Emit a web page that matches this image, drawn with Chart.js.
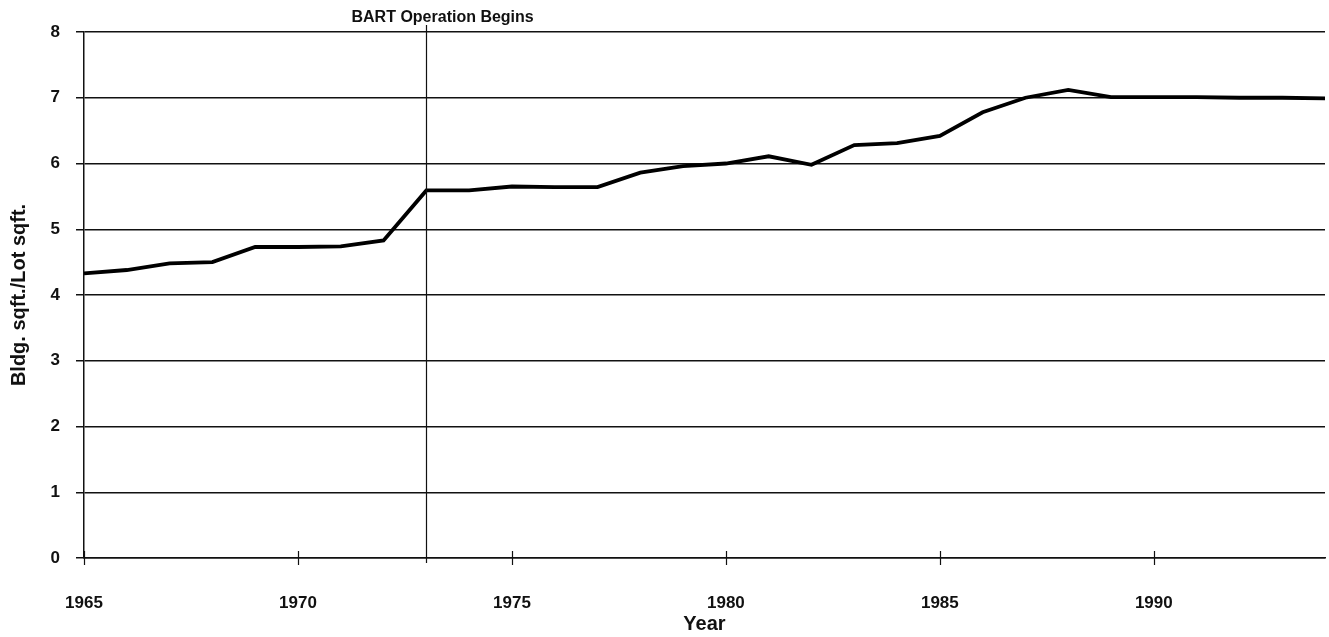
<!DOCTYPE html>
<html>
<head>
<meta charset="utf-8">
<script src="https://cdn.jsdelivr.net/npm/chart.js@4.4.1/dist/chart.umd.min.js"></script>
<style>
  html, body { margin: 0; padding: 0; background: #fff; }
  #wrap { width: 1329px; height: 637px; position: relative; }
</style>
</head>
<body>
<div id="wrap"><canvas id="ratioChart"></canvas></div>
<script>
// floor area ratio by year
const years = [1965, 1966, 1967, 1968, 1969, 1970, 1971, 1972, 1973, 1974,
  1975, 1976, 1977, 1978, 1979, 1980, 1981, 1982, 1983, 1984,
  1985, 1986, 1987, 1988, 1989, 1990, 1991, 1992, 1993, 1994];
const ratio = [4.33, 4.38, 4.48, 4.50, 4.73, 4.73, 4.74, 4.83, 5.59, 5.59,
  5.65, 5.64, 5.64, 5.86, 5.96, 6.00, 6.11, 5.98, 6.28, 6.31,
  6.42, 6.78, 7.00, 7.12, 7.01, 7.01, 7.01, 7.00, 7.00, 6.99];
const yearTicks = [1965, 1970, 1975, 1980, 1985, 1990];
const bartYear = 1973;
const bartLabel = 'BART Operation Begins';

const fontFamily = '"Liberation Sans", Arial, Helvetica, sans-serif';

// vertical marker for BART start + crossing ticks on the x axis
const markerPlugin = {
  id: 'bartMarker',
  afterDraw(chart) {
    const ctx = chart.ctx;
    const x = chart.scales.x;
    const area = chart.chartArea;
    ctx.save();
    ctx.strokeStyle = '#111';
    ctx.lineWidth = 1.2;
    x.ticks.forEach(t => {
      const px = Math.round(x.getPixelForValue(t.value)) + 0.5;
      ctx.beginPath();
      ctx.moveTo(px, area.bottom - 7);
      ctx.lineTo(px, area.bottom + 7);
      ctx.stroke();
    });
    const bx = Math.round(x.getPixelForValue(bartYear)) + 0.5;
    ctx.beginPath();
    ctx.moveTo(bx, area.top - 7);
    ctx.lineTo(bx, area.bottom + 5);
    ctx.stroke();
    ctx.fillStyle = '#111';
    ctx.font = 'bold 16px ' + fontFamily;
    ctx.textBaseline = 'alphabetic';
    ctx.textAlign = 'left';
    ctx.fillText(bartLabel, bx - 75, area.top - 10);
    ctx.restore();
  }
};

const ctx = document.getElementById('ratioChart').getContext('2d');
new Chart(ctx, {
  type: 'line',
  data: {
    labels: years,
    datasets: [{
      data: years.map((y, i) => ({ x: y, y: ratio[i] })),
      borderColor: '#000',
      borderWidth: 3.8,
      pointRadius: 0,
      fill: false,
      tension: 0
    }]
  },
  options: {
    responsive: true,
    maintainAspectRatio: false,
    animation: false,
    layout: { padding: { top: 32, right: 4, left: 0, bottom: 0 } },
    plugins: {
      legend: { display: false },
      tooltip: { enabled: false }
    },
    scales: {
      x: {
        type: 'linear',
        min: 1965,
        max: 1994,
        grid: { display: false },
        border: { display: true, color: '#111', width: 1.5 },
        afterBuildTicks(scale) {
          scale.ticks = yearTicks.map(v => ({ value: v }));
        },
        ticks: {
          color: '#111',
          padding: 27,
          font: { family: fontFamily, size: 17, weight: 'bold' },
          callback: v => String(v)
        },
        title: {
          display: true,
          text: 'Year',
          color: '#111',
          font: { family: fontFamily, size: 20, weight: 'bold' },
          padding: { top: 0, bottom: 1 }
        },
        afterFit(scale) { scale.height = 79; }
      },
      y: {
        min: 0,
        max: 8,
        grid: { color: '#111', lineWidth: 1.5, tickLength: 8 },
        border: { display: true, color: '#111', width: 1.5 },
        ticks: {
          stepSize: 1,
          color: '#111',
          padding: 16,
          font: { family: fontFamily, size: 17, weight: 'bold' }
        },
        title: {
          display: true,
          text: 'Bldg. sqft./Lot sqft.',
          color: '#111',
          font: { family: fontFamily, size: 20, weight: 'bold' },
          padding: { top: 7, bottom: 0 }
        },
        afterFit(scale) { scale.width = 84; }
      }
    }
  },
  plugins: [markerPlugin]
});
</script>
</body>
</html>
